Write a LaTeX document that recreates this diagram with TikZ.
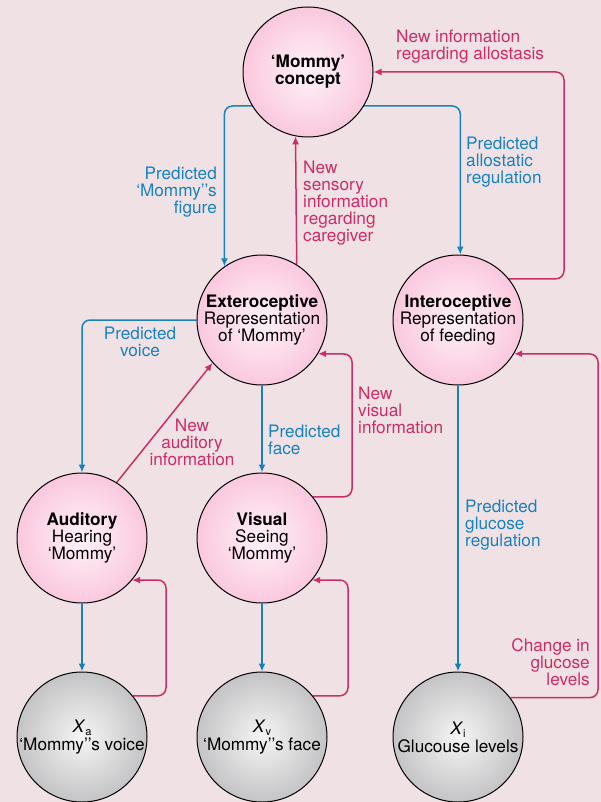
\documentclass[tikz,border=0pt]{standalone}
\usepackage{fontspec}
\setmainfont{TeX Gyre Heros}
\usetikzlibrary{arrows.meta, calc}
\definecolor{paperbg}{RGB}{240,226,228}
\definecolor{pinkin}{RGB}{255,242,248}
\definecolor{pinkout}{RGB}{250,200,222}
\definecolor{grayin}{RGB}{245,245,245}
\definecolor{grayout}{RGB}{196,196,198}
\definecolor{predblue}{RGB}{24,130,192}
\definecolor{newred}{RGB}{204,44,104}
\newcommand{\lblfont}{\fontsize{17.2}{17}\selectfont}
\newcommand{\subidx}[1]{\raisebox{-3pt}{\fontsize{11}{11}\selectfont #1}}
\pgfdeclarelayer{behind}
\pgfsetlayers{behind,main}
\tikzset{
    pinkball/.style={circle, draw=black, line width=1pt, minimum size=130pt, inner sep=0pt,
        inner color=pinkin, outer color=pinkout, align=center, font=\lblfont,
        execute at begin node={\rule{0pt}{16.5pt}}},
    grayball/.style={circle, draw=black, line width=1pt, minimum size=130pt, inner sep=0pt,
        inner color=grayin, outer color=grayout, align=center, font=\lblfont},
    pred/.style={draw=predblue, line width=1.5pt, rounded corners=8pt, -{Latex[length=8pt,width=7pt]}},
    newinfo/.style={draw=newred, line width=1.5pt, rounded corners=8pt, -{Latex[length=8pt,width=7pt]}},
    predlabel/.style={text=predblue, font=\lblfont, inner sep=0pt},
    newlabel/.style={text=newred, font=\lblfont, inner sep=0pt},
}

\begin{document}
\begin{tikzpicture}[x=1pt, y=-1pt]
            \useasboundingbox (0,0) rectangle (601,802);

            \node[pinkball] (mommy) at (308,72) {\bfseries ‘Mommy’\\\bfseries concept};
            \node[pinkball] (extero) at (262,320) {\bfseries Exteroceptive\\Representation\\of ‘Mommy’};
            \node[pinkball] (intero) at (458,320) {\bfseries Interoceptive\\Representation\\of feeding};
            \node[pinkball] (audit) at (82,538) {\bfseries Auditory\\Hearing\\‘Mommy’};
            \node[pinkball] (visual) at (262,538) {\bfseries Visual\\Seeing\\‘Mommy’};
            \node[grayball] (xa) at (82,737) {\textit{X}\subidx{a}\\[1pt]‘Mommy’’s voice};
            \node[grayball] (xv) at (262,737) {\textit{X}\subidx{v}\\[1pt]‘Mommy’’s face};
            \node[grayball] (xi) at (458,737) {\textit{X}\subidx{i}\\[1pt]Glucouse levels};

            \coordinate (allocorner) at (564,72);
            \coordinate (viscorner) at (352,354);
            \coordinate (glucorner) at (598,354);
            \coordinate (acorner) at (166,580);
            \coordinate (vcorner) at (348,580);

            \begin{pgfonlayer}{behind}
            \fill[paperbg] (0,0) rectangle (601,802);
            \draw[pred] (mommy.center) -- ++(0,34) -| (extero.125);
            \draw[pred] (mommy.center) -- ++(0,34) -| (intero.88);
            \draw[newinfo] (extero.58) -- (mommy.259);
            \draw[newinfo] (intero.39) -| (allocorner) -- (mommy.east);
            \draw[pred] (extero.west) -| (audit.north);
            \draw[newinfo] (audit.58) -- (extero.221);
            \draw[pred] (extero.south) -- (visual.north);
            \draw[newinfo] (visual.39) -| (viscorner) -- (extero.-31);
            \draw[pred] (intero.south) -- (xi.north);
            \draw[newinfo] (xi.37) -| (glucorner) -- (intero.-31);
            \draw[pred] (audit.south) -- (xa.north);
            \draw[newinfo] (xa.39) -| (acorner) -- (audit.-40);
            \draw[pred] (visual.south) -- (xv.north);
            \draw[newinfo] (xv.39) -| (vcorner) -- (visual.-40);
            \end{pgfonlayer}

            \node[predlabel, anchor=east, align=right] (figlbl) at (217,192) {Predicted\\‘Mommy’’s\\figure};
            \node[predlabel, anchor=west, align=left] (allolbl) at (466,162) {Predicted\\allostatic\\regulation};
            \node[predlabel, align=center] (voicelbl) at (140,342) {Predicted\\voice};
            \node[predlabel, anchor=west, align=left] (facelbl) at (268,440) {Predicted\\face};
            \node[predlabel, anchor=west, align=left] (gluclbl) at (465,525) {Predicted\\glucose\\regulation};

            \node[newlabel, anchor=west, align=left] (allonew) at (396,47) {New information\\regarding allostasis};
            \node[newlabel, anchor=west, align=left] (sensnew) at (303,203) {New\\sensory\\information\\regarding\\caregiver};
            \node[newlabel, align=center] (audnew) at (192,442) {New\\auditory\\information};
            \node[newlabel, anchor=west, align=left] (visnew) at (358,410) {New\\visual\\information};
            \node[newlabel, anchor=east, align=right] (glucnew) at (590,662) {Change in\\glucose\\levels};
        \end{tikzpicture}
\end{document}
